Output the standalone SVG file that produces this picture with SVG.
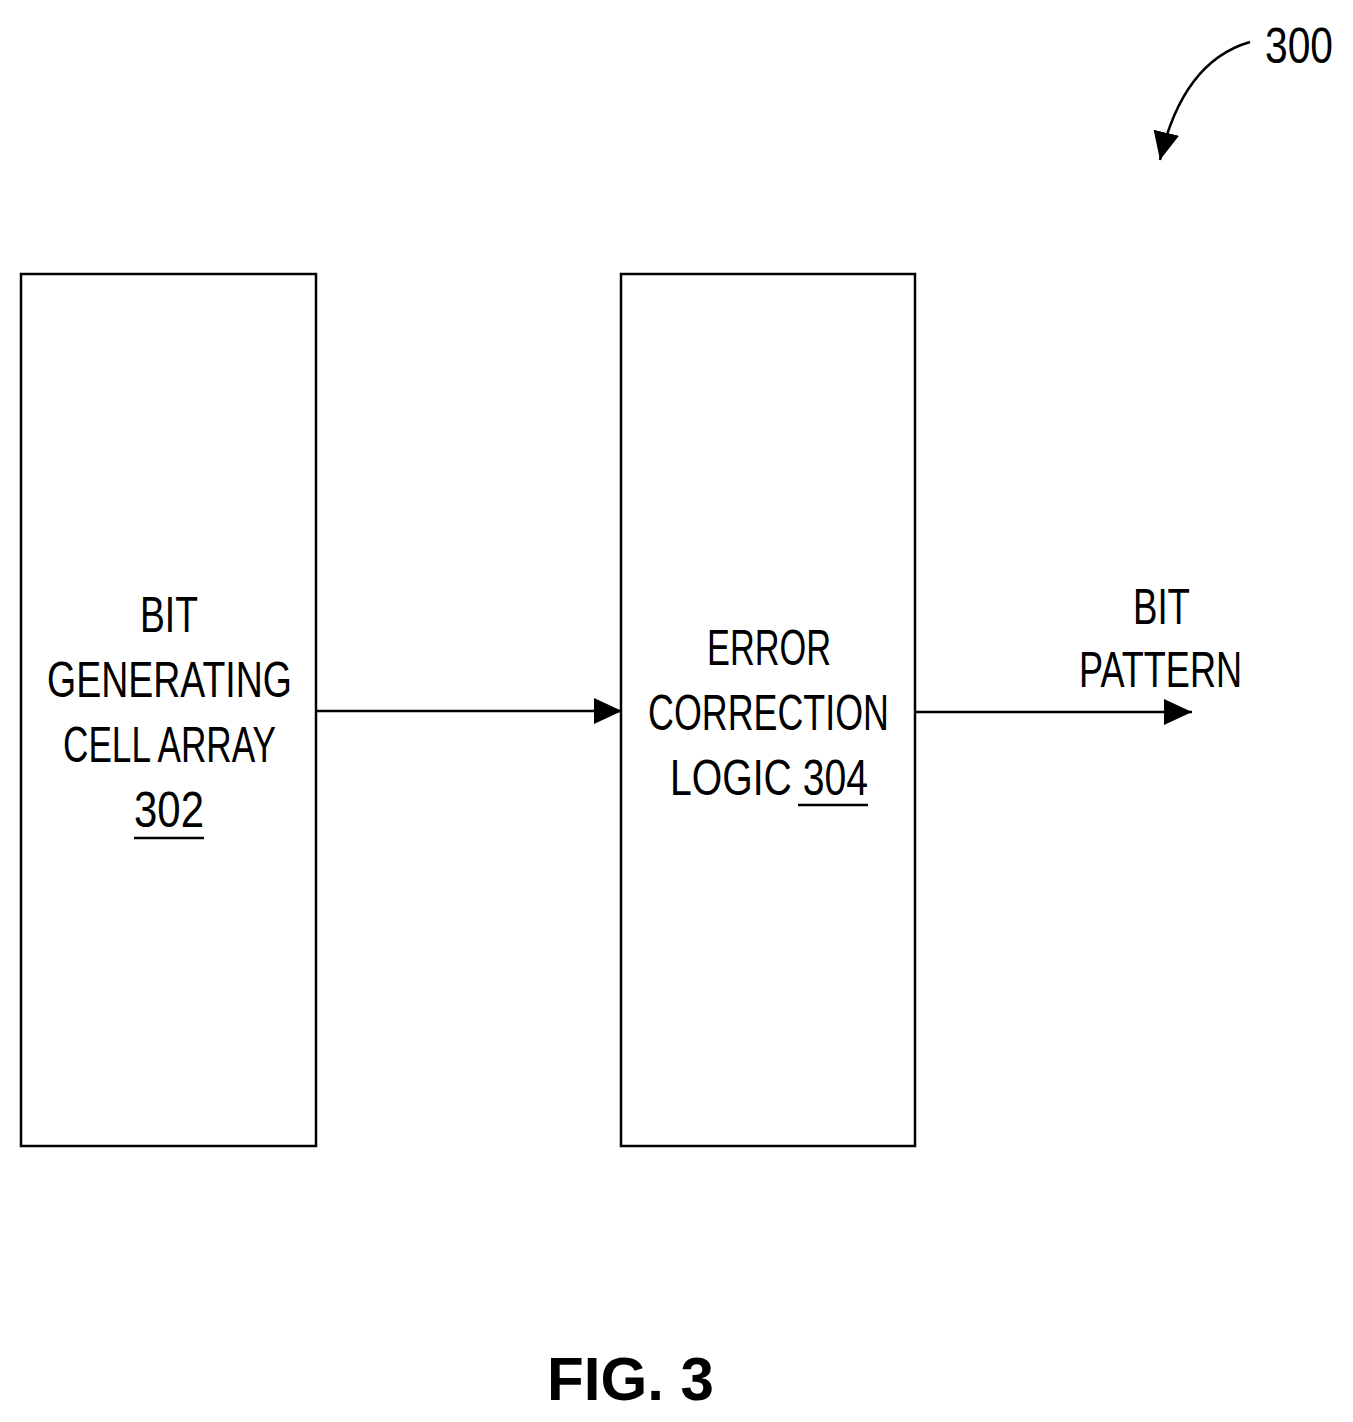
<svg xmlns="http://www.w3.org/2000/svg" width="1353" height="1422" viewBox="0 0 1353 1422">
<style>
.box{fill:#fff;stroke:#000;stroke-width:2.5}
.t{font-family:"Liberation Sans",Arial,sans-serif;font-size:50px;fill:#000}
.ln{stroke:#000;stroke-width:2.5;fill:none}
</style>
<defs>
<marker id="ahb" markerWidth="28" markerHeight="26" refX="28" refY="13" orient="auto" markerUnits="userSpaceOnUse">
<path d="M0,0 L28,13 L0,26 Z" fill="#000"/>
</marker>
</defs>
<rect width="1353" height="1422" fill="#fff"/>
<g id="node302">
<rect class="box" x="21" y="274" width="295" height="872"/>
<text class="t" x="140" y="632" textLength="58" lengthAdjust="spacingAndGlyphs">BIT</text>
<text class="t" x="47" y="697" textLength="245" lengthAdjust="spacingAndGlyphs">GENERATING</text>
<text class="t" x="63" y="762" textLength="213" lengthAdjust="spacingAndGlyphs">CELL ARRAY</text>
<text class="t" x="134" y="827" textLength="70" lengthAdjust="spacingAndGlyphs">302</text>
<line class="ln" x1="134" y1="838" x2="204" y2="838"/>
</g>
<g id="node304">
<rect class="box" x="621" y="274" width="294" height="872"/>
<text class="t" x="707" y="665" textLength="124" lengthAdjust="spacingAndGlyphs">ERROR</text>
<text class="t" x="648" y="730" textLength="241" lengthAdjust="spacingAndGlyphs">CORRECTION</text>
<text class="t" x="670" y="795" textLength="198" lengthAdjust="spacingAndGlyphs">LOGIC 304</text>
<line class="ln" x1="798" y1="805" x2="868" y2="805"/>
</g>
<g id="output">
<text class="t" x="1133" y="624" textLength="57" lengthAdjust="spacingAndGlyphs">BIT</text>
<text class="t" x="1079" y="687" textLength="163" lengthAdjust="spacingAndGlyphs">PATTERN</text>
</g>
<g id="connectors">
<line class="ln" x1="316" y1="711" x2="622" y2="711" marker-end="url(#ahb)"/>
<line class="ln" x1="915" y1="712" x2="1192" y2="712" marker-end="url(#ahb)"/>
<path class="ln" d="M1250,42 C1205,55 1175,95 1160,160" marker-end="url(#ahb)"/>
</g>
<text class="t" x="1265" y="63" textLength="68" lengthAdjust="spacingAndGlyphs">300</text>
<text x="547" y="1400" font-family="Liberation Sans,Arial,sans-serif" font-weight="bold" font-size="62" textLength="167" lengthAdjust="spacingAndGlyphs">FIG. 3</text>
</svg>
